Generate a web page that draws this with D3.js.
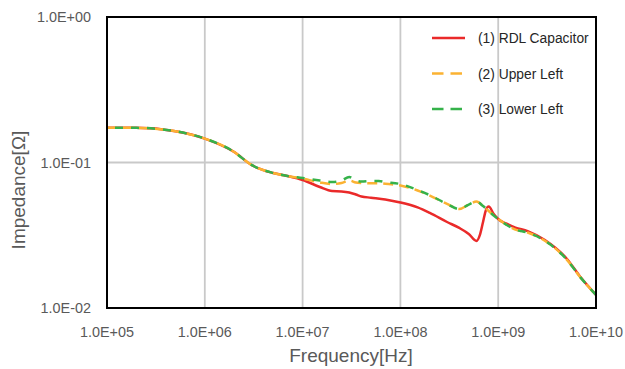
<!DOCTYPE html>
<html>
<head>
<meta charset="utf-8">
<script src="https://cdn.jsdelivr.net/npm/d3@7"></script>
<style>
  body { margin: 0; background: #fff; }
  text { font-family: "Liberation Sans", Arial, sans-serif; }
</style>
</head>
<body>
<div id="chart"></div>
<script>
// frequency points (Hz) and impedance (ohm)
const freqRdl = [1e5, 2e5, 5e5, 1e6, 2e6, 3e6, 5e6, 7e6, 1e7, 1.5e7, 2e7, 2.5e7, 3e7, 3.5e7, 4e7, 5e7, 7e7, 1e8, 1.5e8, 2e8, 3e8, 4e8, 5e8, 6e8, 6.5e8, 7e8, 7.5e8, 8e8, 9e8, 1e9, 1.2e9, 1.5e9, 2e9, 3e9, 5e9, 7e9, 1e10]
const zRdl = [0.173, 0.173, 0.164, 0.146, 0.118, 0.0962, 0.0847, 0.0807, 0.0758, 0.0679, 0.0637, 0.0633, 0.0622, 0.0603, 0.0584, 0.0573, 0.0557, 0.0531, 0.0491, 0.0450, 0.0390, 0.0355, 0.0323, 0.0289, 0.0318, 0.0390, 0.0472, 0.0498, 0.0443, 0.0409, 0.0381, 0.0357, 0.0338, 0.0293, 0.0219, 0.0162, 0.0123]

const freqLeft = [1e5, 2e5, 5e5, 1e6, 2e6, 3e6, 5e6, 7e6, 1e7, 1.5e7, 2e7, 2.5e7, 3e7, 3.5e7, 4e7, 5e7, 6e7, 7e7, 1e8, 1.5e8, 2e8, 3e8, 4e8, 5e8, 6e8, 7e8, 8e8, 9e8, 1e9, 1.2e9, 1.5e9, 2e9, 3e9, 5e9, 7e9, 1e10]
const zUpper = [0.173, 0.173, 0.164, 0.146, 0.118, 0.0962, 0.0847, 0.0807, 0.0776, 0.0729, 0.0711, 0.0723, 0.0752, 0.0729, 0.0723, 0.0720, 0.0720, 0.0714, 0.0695, 0.0642, 0.0593, 0.0519, 0.0479, 0.0514, 0.0539, 0.0502, 0.0464, 0.0432, 0.0409, 0.0375, 0.0346, 0.0330, 0.0290, 0.0216, 0.0161, 0.0123]
const zLower = [0.173, 0.173, 0.164, 0.146, 0.118, 0.0962, 0.0847, 0.0807, 0.0782, 0.0752, 0.0734, 0.0752, 0.0795, 0.0752, 0.0740, 0.0746, 0.0746, 0.0734, 0.0711, 0.0647, 0.0596, 0.0519, 0.0479, 0.0514, 0.0539, 0.0502, 0.0464, 0.0432, 0.0409, 0.0375, 0.0346, 0.0330, 0.0290, 0.0216, 0.0161, 0.0123]

const xTicks = [1e5, 1e6, 1e7, 1e8, 1e9, 1e10]
const yTicks = [1e-2, 1e-1, 1]
const seriesNames = ["(1) RDL Capacitor", "(2) Upper Left", "(3) Lower Left"]
const seriesColors = ["#ea2a2a", "#fbb232", "#35b24a"]

const width = 625
const height = 369
const margin = {left: 107, top: 17, right: 29, bottom: 61}

const x = d3.scaleLog().domain([1e5, 1e10]).range([margin.left, width - margin.right])
const y = d3.scaleLog().domain([1e-2, 1]).range([height - margin.bottom, margin.top])

const fmt = v => v.toExponential(1).toUpperCase().replace(/E([+-])(\d)$/, "E$10$2")

const svg = d3.select("#chart").append("svg")
  .attr("width", width)
  .attr("height", height)

// grid
svg.append("g")
  .selectAll("line")
  .data(xTicks.slice(1, -1))
  .enter()
  .append("line")
  .attr("x1", d => x(d)).attr("x2", d => x(d))
  .attr("y1", y(1)).attr("y2", y(1e-2))
  .attr("stroke", "#c9c9c9").attr("stroke-width", 1.8)

svg.append("g")
  .selectAll("line")
  .data(yTicks.slice(1, -1))
  .enter()
  .append("line")
  .attr("x1", x(1e5)).attr("x2", x(1e10))
  .attr("y1", d => y(d)).attr("y2", d => y(d))
  .attr("stroke", "#c9c9c9").attr("stroke-width", 1.8)

// tick labels
svg.append("g")
  .selectAll("text")
  .data(xTicks)
  .enter()
  .append("text")
  .attr("x", d => x(d))
  .attr("y", 337)
  .attr("text-anchor", "middle")
  .attr("font-size", 14.4)
  .attr("fill", "#595959")
  .text(fmt)

svg.append("g")
  .selectAll("text")
  .data(yTicks)
  .enter()
  .append("text")
  .attr("x", 91)
  .attr("y", d => y(d) + 5.2)
  .attr("text-anchor", "end")
  .attr("font-size", 14.4)
  .attr("fill", "#595959")
  .text(fmt)

// axis titles
svg.append("text")
  .attr("x", 351)
  .attr("y", 362)
  .attr("text-anchor", "middle")
  .attr("font-size", 19)
  .attr("fill", "#595959")
  .text("Frequency[Hz]")

svg.append("text")
  .attr("transform", "translate(25,190) rotate(-90)")
  .attr("text-anchor", "middle")
  .attr("font-size", 19)
  .attr("fill", "#595959")
  .text("Impedance[Ω]")

// curves
const line = d3.line()
  .x(d => x(d[0]))
  .y(d => y(d[1]))
  .curve(d3.curveMonotoneX)

const series = [
  {pts: d3.zip(freqRdl, zRdl), dash: null, offset: 0},
  {pts: d3.zip(freqLeft, zUpper), dash: "10,6", offset: 0},
  {pts: d3.zip(freqLeft, zLower), dash: "8,8", offset: 8}
]

series.forEach((s, i) => {
  svg.append("path")
    .attr("d", line(s.pts))
    .attr("fill", "none")
    .attr("stroke", seriesColors[i])
    .attr("stroke-width", 2.5)
    .attr("stroke-dasharray", s.dash)
    .attr("stroke-dashoffset", s.offset)
})

// frame
svg.append("rect")
  .attr("x", x(1e5)).attr("y", y(1))
  .attr("width", x(1e10) - x(1e5))
  .attr("height", y(1e-2) - y(1))
  .attr("fill", "none")
  .attr("stroke", "#000")
  .attr("stroke-width", 2)

// legend
const legend = svg.append("g")
  .selectAll("g")
  .data(seriesNames)
  .enter()
  .append("g")
  .attr("transform", (d, i) => `translate(0,${38 + i * 35.5})`)

legend.append("line")
  .attr("x1", 432).attr("x2", (d, i) => i === 0 ? 465 : 462)
  .attr("y1", 0).attr("y2", 0)
  .attr("stroke", (d, i) => seriesColors[i])
  .attr("stroke-width", 2.6)
  .attr("stroke-dasharray", (d, i) => i === 0 ? null : "11.5,7")

legend.append("text")
  .attr("x", 478)
  .attr("y", 5)
  .attr("font-size", 13.8)
  .attr("fill", "#262626")
  .text(d => d)
</script>
</body>
</html>
